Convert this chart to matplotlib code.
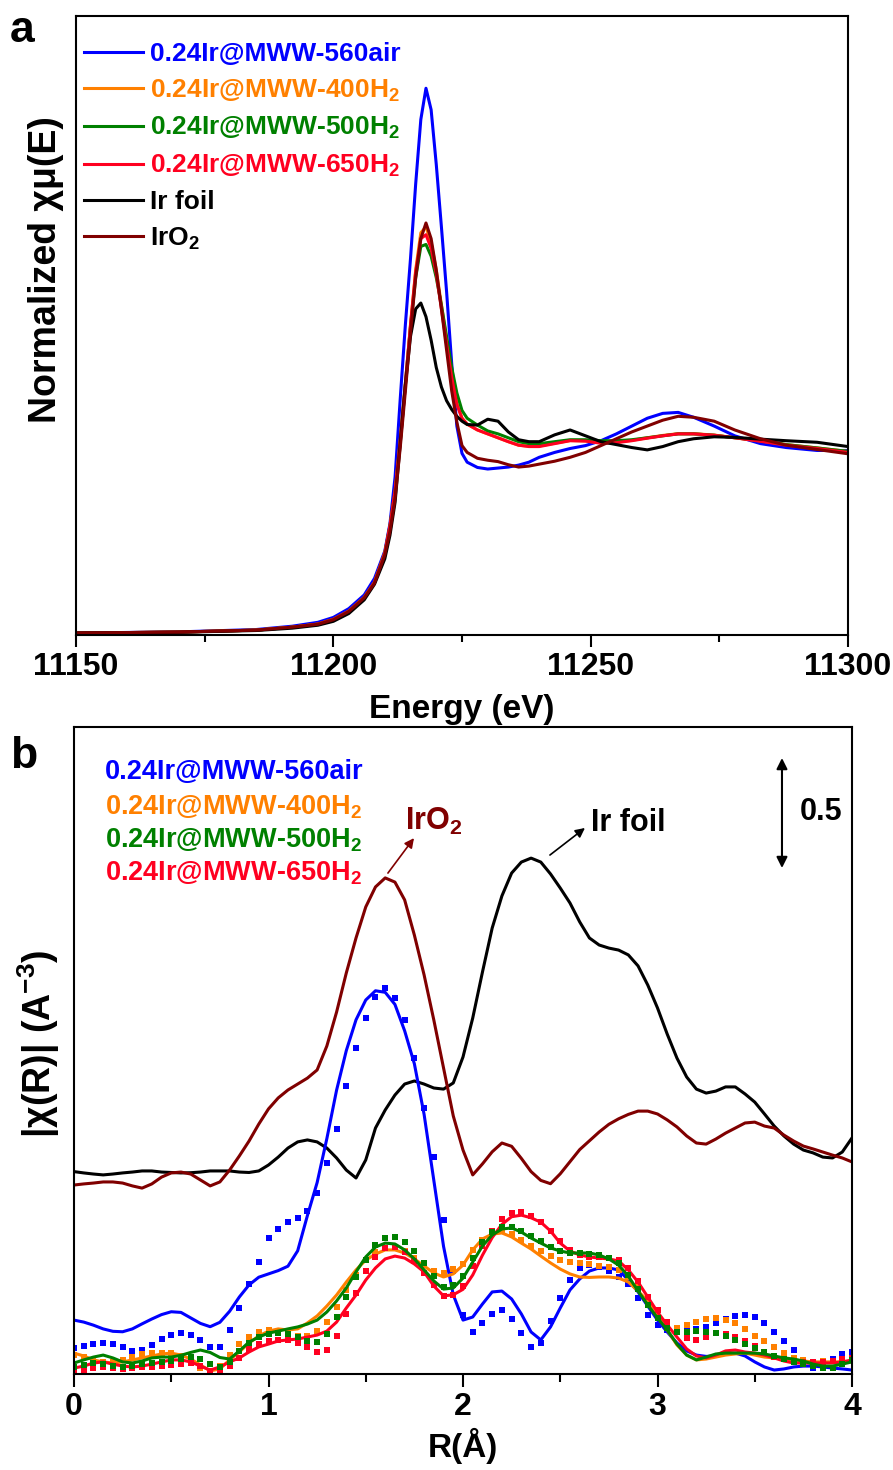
import numpy as np
import matplotlib
matplotlib.use("Agg")
import matplotlib.pyplot as plt
from matplotlib.ticker import MultipleLocator

plt.rcParams['font.family'] = ['Liberation Sans', 'DejaVu Sans']
plt.rcParams['font.weight'] = 'bold'
plt.rcParams['mathtext.fontset'] = 'custom'
plt.rcParams['mathtext.rm'] = 'Liberation Sans:bold'
plt.rcParams['mathtext.bf'] = 'Liberation Sans:bold'
plt.rcParams['mathtext.it'] = 'Liberation Sans:bold'
plt.rcParams['mathtext.default'] = 'rm'

# ---------------- Panel a : XANES ----------------
energy = [11150, 11170, 11185, 11192, 11197, 11200, 11203, 11206, 11208,
          11210, 11211, 11212, 11213, 11214, 11215, 11216, 11217, 11218,
          11219, 11220, 11221, 11222, 11223, 11224, 11225, 11226, 11228,
          11230, 11232, 11234, 11236, 11238, 11240, 11243, 11246, 11249,
          11252, 11255, 11258, 11261, 11264, 11267, 11270, 11274, 11278,
          11283, 11288, 11294, 11300]

xanes_560air = [0.0, 0.006, 0.018, 0.035, 0.055, 0.08, 0.125, 0.195, 0.28,
                0.42, 0.56, 0.80, 1.20, 1.58, 1.92, 2.30, 2.63, 2.79,
                2.68, 2.40, 2.08, 1.75, 1.38, 1.06, 0.92, 0.875, 0.848,
                0.84, 0.845, 0.85, 0.86, 0.875, 0.90, 0.925, 0.945, 0.96,
                0.985, 1.02, 1.06, 1.10, 1.125, 1.13, 1.105, 1.06, 1.01,
                0.97, 0.95, 0.935, 0.935]
xanes_400h2 = [0.0, 0.005, 0.015, 0.03, 0.046, 0.07, 0.112, 0.182, 0.26,
               0.41, 0.54, 0.72, 0.98, 1.27, 1.58, 1.86, 2.05, 2.08,
               2.0, 1.86, 1.68, 1.50, 1.32, 1.18, 1.10, 1.07, 1.04,
               1.02, 1.0, 0.98, 0.962, 0.957, 0.958, 0.972, 0.986, 0.984,
               0.974, 0.977, 0.987, 1.0, 1.012, 1.021, 1.021, 1.014, 1.0,
               0.984, 0.965, 0.948, 0.93]
xanes_500h2 = [0.0, 0.005, 0.015, 0.03, 0.046, 0.07, 0.112, 0.182, 0.26,
               0.41, 0.55, 0.73, 0.99, 1.28, 1.57, 1.82, 1.98, 1.99,
               1.93, 1.82, 1.68, 1.52, 1.36, 1.23, 1.14, 1.10, 1.065,
               1.035, 1.02, 1.0, 0.98, 0.97, 0.97, 0.98, 0.99, 0.99,
               0.985, 0.985, 0.99, 1.0, 1.01, 1.02, 1.02, 1.013, 1.0,
               0.985, 0.965, 0.948, 0.93]
xanes_650h2 = [0.0, 0.005, 0.015, 0.03, 0.046, 0.07, 0.112, 0.182, 0.26,
               0.41, 0.55, 0.73, 0.99, 1.28, 1.58, 1.85, 2.02, 2.04,
               1.97, 1.84, 1.66, 1.48, 1.31, 1.17, 1.10, 1.07, 1.04,
               1.02, 1.0, 0.98, 0.962, 0.955, 0.955, 0.97, 0.985, 0.983,
               0.972, 0.975, 0.985, 0.998, 1.01, 1.02, 1.02, 1.013, 1.0,
               0.982, 0.962, 0.945, 0.925]
xanes_irfoil = [0.0, 0.004, 0.013, 0.025, 0.04, 0.06, 0.1, 0.17, 0.25,
                0.38, 0.50, 0.67, 0.97, 1.27, 1.52, 1.66, 1.69, 1.62,
                1.50, 1.36, 1.26, 1.19, 1.145, 1.11, 1.085, 1.068, 1.065,
                1.095, 1.085, 1.03, 0.99, 0.98, 0.98, 1.015, 1.04, 1.01,
                0.98, 0.965, 0.95, 0.938, 0.955, 0.98, 0.995, 1.005, 1.002,
                0.993, 0.985, 0.977, 0.955]
xanes_iro2 = [0.0, 0.005, 0.015, 0.03, 0.045, 0.068, 0.11, 0.18, 0.255,
              0.40, 0.52, 0.69, 0.95, 1.24, 1.54, 1.82, 2.02, 2.10,
              2.02, 1.86, 1.66, 1.45, 1.24, 1.08, 0.96, 0.925, 0.895,
              0.885, 0.878, 0.862, 0.85, 0.855, 0.865, 0.88, 0.90, 0.925,
              0.96, 0.995, 1.03, 1.06, 1.09, 1.11, 1.105, 1.085, 1.04,
              0.995, 0.962, 0.94, 0.918]

# ---------------- Panel b : FT-EXAFS ----------------
r_grid = np.round(np.arange(0, 4.0001, 0.05), 2)

ft_irfoil = [0.92, 0.914, 0.909, 0.905, 0.909, 0.914, 0.918, 0.923, 0.923, 0.918,
             0.916, 0.914, 0.915, 0.918, 0.923, 0.923, 0.923, 0.918, 0.916, 0.923,
             0.95, 0.986, 1.027, 1.055, 1.064, 1.055, 1.027, 0.982, 0.927, 0.891,
             0.973, 1.118, 1.2, 1.268, 1.318, 1.332, 1.318, 1.3, 1.295, 1.323,
             1.441, 1.618, 1.827, 2.027, 2.173, 2.277, 2.327, 2.345, 2.327, 2.273,
             2.209, 2.141, 2.055, 1.982, 1.95, 1.936, 1.927, 1.905, 1.855, 1.768,
             1.664, 1.545, 1.436, 1.35, 1.295, 1.277, 1.286, 1.305, 1.305, 1.273,
             1.236, 1.182, 1.127, 1.082, 1.045, 1.018, 1.005, 0.986, 0.982, 1.009,
             1.073]
ft_iro2 = [0.859, 0.864, 0.868, 0.873, 0.873, 0.868, 0.855, 0.845, 0.864, 0.895,
           0.914, 0.918, 0.909, 0.882, 0.855, 0.873, 0.927, 0.991, 1.059, 1.136,
           1.205, 1.255, 1.291, 1.318, 1.345, 1.382, 1.491, 1.645, 1.823, 1.982,
           2.123, 2.214, 2.255, 2.236, 2.155, 1.995, 1.814, 1.609, 1.391, 1.173,
           1.018, 0.905, 0.955, 1.01, 1.05, 1.035, 0.98, 0.92, 0.88, 0.865,
           0.91, 0.965, 1.02, 1.06, 1.1, 1.135, 1.16, 1.18, 1.195, 1.195,
           1.182, 1.155, 1.123, 1.082, 1.05, 1.045, 1.068, 1.095, 1.118, 1.141,
           1.145, 1.127, 1.118, 1.086, 1.059, 1.036, 1.023, 1.009, 0.995, 0.982,
           0.964]

fit_560air = [0.245, 0.236, 0.222, 0.205, 0.194, 0.192, 0.205, 0.228, 0.25, 0.27,
              0.283, 0.28, 0.255, 0.23, 0.215, 0.235, 0.285, 0.35, 0.405, 0.44,
              0.455, 0.47, 0.49, 0.56, 0.72, 0.87, 1.07, 1.29, 1.47, 1.61,
              1.70, 1.742, 1.735, 1.68, 1.56, 1.41, 1.18, 0.88, 0.58, 0.36,
              0.245, 0.259, 0.318, 0.373, 0.377, 0.341, 0.273, 0.191, 0.155, 0.214,
              0.3, 0.382, 0.432, 0.468, 0.482, 0.482, 0.473, 0.427, 0.373, 0.309,
              0.245, 0.191, 0.141, 0.105, 0.086, 0.08, 0.082, 0.091, 0.095, 0.082,
              0.055, 0.032, 0.018, 0.023, 0.032, 0.036, 0.036, 0.032, 0.027, 0.023,
              0.018]
exp_560air = [0.118, 0.127, 0.136, 0.141, 0.136, 0.123, 0.105, 0.109, 0.132, 0.159,
              0.177, 0.186, 0.177, 0.155, 0.122, 0.125, 0.2, 0.3, 0.41, 0.51,
              0.62, 0.66, 0.69, 0.71, 0.74, 0.825, 0.96, 1.115, 1.31, 1.48,
              1.62, 1.715, 1.755, 1.71, 1.61, 1.435, 1.21, 0.985, 0.70, 0.47,
              0.27, 0.19, 0.23, 0.275, 0.29, 0.25, 0.187, 0.125, 0.14, 0.24,
              0.345, 0.427, 0.482, 0.495, 0.488, 0.47, 0.44, 0.41, 0.345, 0.27,
              0.225, 0.2, 0.19, 0.195, 0.205, 0.215, 0.23, 0.25, 0.265, 0.268,
              0.258, 0.232, 0.19, 0.15, 0.108, 0.065, 0.027, 0.04, 0.07, 0.09,
              0.1]

fit_400h2 = [0.095, 0.082, 0.064, 0.055, 0.05, 0.055, 0.064, 0.073, 0.082, 0.091,
             0.095, 0.086, 0.068, 0.041, 0.014, 0.023, 0.064, 0.1, 0.141, 0.173,
             0.195, 0.205, 0.2, 0.205, 0.232, 0.264, 0.309, 0.359, 0.418, 0.473,
             0.518, 0.545, 0.564, 0.564, 0.55, 0.523, 0.491, 0.459, 0.441, 0.455,
             0.495, 0.564, 0.614, 0.636, 0.641, 0.623, 0.595, 0.568, 0.536, 0.505,
             0.477, 0.455, 0.441, 0.439, 0.441, 0.441, 0.436, 0.418, 0.377, 0.332,
             0.273, 0.2, 0.132, 0.086, 0.064, 0.068, 0.077, 0.086, 0.091, 0.095,
             0.086, 0.077, 0.073, 0.068, 0.064, 0.059, 0.055, 0.055, 0.055, 0.055,
             0.055]
exp_400h2 = [0.086, 0.077, 0.064, 0.055, 0.055, 0.064, 0.077, 0.091, 0.095, 0.095,
             0.095, 0.082, 0.055, 0.027, 0.009, 0.036, 0.086, 0.136, 0.168, 0.191,
             0.2, 0.195, 0.186, 0.173, 0.173, 0.195, 0.236, 0.305, 0.382, 0.45,
             0.518, 0.555, 0.573, 0.573, 0.559, 0.527, 0.495, 0.468, 0.459, 0.477,
             0.5, 0.564, 0.609, 0.641, 0.65, 0.636, 0.609, 0.582, 0.559, 0.536,
             0.518, 0.509, 0.505, 0.498, 0.491, 0.486, 0.473, 0.441, 0.395, 0.345,
             0.29, 0.235, 0.21, 0.222, 0.238, 0.25, 0.255, 0.247, 0.232, 0.205,
             0.175, 0.148, 0.122, 0.097, 0.073, 0.063, 0.056, 0.057, 0.058, 0.06,
             0.064]

fit_500h2 = [0.05, 0.064, 0.077, 0.086, 0.073, 0.055, 0.05, 0.059, 0.073, 0.077,
             0.077, 0.085, 0.098, 0.109, 0.098, 0.075, 0.068, 0.105, 0.145, 0.168,
             0.186, 0.195, 0.205, 0.214, 0.227, 0.245, 0.282, 0.332, 0.391, 0.464,
             0.532, 0.577, 0.595, 0.591, 0.564, 0.523, 0.473, 0.423, 0.386, 0.391,
             0.436, 0.509, 0.582, 0.632, 0.659, 0.664, 0.645, 0.618, 0.595, 0.573,
             0.559, 0.55, 0.55, 0.55, 0.541, 0.523, 0.495, 0.445, 0.377, 0.314,
             0.255, 0.2, 0.136, 0.086, 0.064, 0.077, 0.091, 0.095, 0.095, 0.095,
             0.095, 0.091, 0.082, 0.073, 0.068, 0.059, 0.045, 0.036, 0.036, 0.045,
             0.055]
exp_500h2 = [0.032, 0.041, 0.05, 0.045, 0.036, 0.032, 0.036, 0.045, 0.05, 0.055,
             0.059, 0.068, 0.077, 0.068, 0.045, 0.032, 0.055, 0.105, 0.141, 0.168,
             0.182, 0.186, 0.182, 0.168, 0.15, 0.145, 0.182, 0.259, 0.35, 0.441,
             0.518, 0.586, 0.618, 0.623, 0.6, 0.559, 0.505, 0.445, 0.395, 0.405,
             0.445, 0.527, 0.6, 0.645, 0.668, 0.668, 0.65, 0.627, 0.605, 0.577,
             0.559, 0.55, 0.55, 0.545, 0.541, 0.527, 0.505, 0.45, 0.386, 0.314,
             0.255, 0.209, 0.191, 0.191, 0.195, 0.191, 0.186, 0.173, 0.155, 0.136,
             0.118, 0.1, 0.082, 0.068, 0.055, 0.045, 0.036, 0.027, 0.027, 0.045,
             0.064]

fit_650h2 = [0.027, 0.036, 0.05, 0.055, 0.045, 0.036, 0.032, 0.036, 0.045, 0.055,
             0.064, 0.064, 0.055, 0.036, 0.018, 0.032, 0.055, 0.073, 0.1, 0.123,
             0.136, 0.15, 0.155, 0.159, 0.168, 0.177, 0.195, 0.236, 0.3, 0.359,
             0.427, 0.482, 0.523, 0.536, 0.527, 0.5, 0.464, 0.40, 0.355, 0.36,
             0.385, 0.45, 0.54, 0.62, 0.68, 0.715, 0.722, 0.71, 0.69, 0.65,
             0.595, 0.559, 0.541, 0.532, 0.527, 0.523, 0.514, 0.473, 0.418, 0.35,
             0.282, 0.223, 0.168, 0.114, 0.082, 0.073, 0.086, 0.105, 0.109, 0.1,
             0.095, 0.086, 0.073, 0.059, 0.05, 0.05, 0.05, 0.05, 0.05, 0.055,
             0.064]
exp_650h2 = [0.005, 0.014, 0.027, 0.032, 0.027, 0.023, 0.027, 0.032, 0.032, 0.036,
             0.041, 0.045, 0.05, 0.036, 0.014, 0.014, 0.036, 0.073, 0.114, 0.136,
             0.15, 0.155, 0.155, 0.141, 0.123, 0.1, 0.109, 0.173, 0.273, 0.368,
             0.468, 0.532, 0.573, 0.577, 0.555, 0.514, 0.459, 0.405, 0.355, 0.359,
             0.4, 0.491, 0.582, 0.65, 0.705, 0.732, 0.736, 0.718, 0.691, 0.65,
             0.605, 0.564, 0.541, 0.532, 0.53, 0.527, 0.518, 0.482, 0.423, 0.35,
             0.291, 0.236, 0.19, 0.165, 0.155, 0.17, 0.185, 0.18, 0.168, 0.15,
             0.128, 0.1, 0.079, 0.068, 0.059, 0.055, 0.055, 0.055, 0.059, 0.068,
             0.073]

sample_labels = ['0.24Ir@MWW-560air', '0.24Ir@MWW-400H$_2$',
                 '0.24Ir@MWW-500H$_2$', '0.24Ir@MWW-650H$_2$']
ref_labels = ['Ir foil', 'IrO$_2$']

C_BLUE = '#0000ff'
C_ORANGE = '#ff8000'
C_GREEN = '#008000'
C_RED = '#ff0020'
C_BLACK = '#000000'
C_BROWN = '#800000'

W, H = 893, 1470
fig = plt.figure(figsize=(W / 100, H / 100), dpi=100)

def frac_box(x0, y0, x1, y1):
    return [x0 / W, 1 - y1 / H, (x1 - x0) / W, (y1 - y0) / H]

LW = 2.2
TICKFS = 23
LABELFS = 24
LEGFS = 19
TXTFS = 19.5
ANNFS = 22

# ---------- panel a ----------
axa = fig.add_axes(frac_box(76, 16, 848, 635))
series_a = [(xanes_560air, C_BLUE, sample_labels[0]),
            (xanes_400h2, C_ORANGE, sample_labels[1]),
            (xanes_500h2, C_GREEN, sample_labels[2]),
            (xanes_650h2, C_RED, sample_labels[3]),
            (xanes_irfoil, C_BLACK, ref_labels[0]),
            (xanes_iro2, C_BROWN, ref_labels[1])]
for vals, col, lab in series_a:
    axa.plot(energy, vals, color=col, lw=LW, label=lab)
axa.set_xlim(11150, 11300)
axa.set_ylim(-0.01, 3.16)
axa.xaxis.set_major_locator(MultipleLocator(50))
axa.xaxis.set_minor_locator(MultipleLocator(25))
axa.set_yticks([])
axa.tick_params(axis='x', which='major', direction='out', length=8.6, width=1.5,
                labelsize=TICKFS, pad=4)
axa.tick_params(axis='x', which='minor', direction='out', length=5, width=1.5)
for lab in axa.get_xticklabels():
    lab.set_fontweight('bold')
axa.set_xlabel('Energy (eV)', fontsize=LABELFS, fontweight='bold', labelpad=8)
axa.set_ylabel('Normalized χμ(E)', fontsize=27, fontweight='bold')
axa.yaxis.set_label_coords(-0.016, 0.59)
for sp in axa.spines.values():
    sp.set_linewidth(1.5)
leg = axa.legend(loc='upper left', bbox_to_anchor=(0.0035, 0.966), frameon=False,
                 fontsize=LEGFS, handlelength=2.25, handletextpad=0.27,
                 labelspacing=0.43, borderaxespad=0.0, borderpad=0.2)
text_cols = [C_BLUE, C_ORANGE, C_GREEN, C_RED, C_BLACK, C_BLACK]
for t, c in zip(leg.get_texts(), text_cols):
    t.set_color(c)
    t.set_fontweight('bold')

# ---------- panel b ----------
axb = fig.add_axes(frac_box(74, 727, 852, 1374))
axb.plot(r_grid, ft_irfoil, color=C_BLACK, lw=LW)
axb.plot(r_grid, ft_iro2, color=C_BROWN, lw=LW)
samples_b = [(fit_560air, exp_560air, C_BLUE),
             (fit_400h2, exp_400h2, C_ORANGE),
             (fit_650h2, exp_650h2, C_RED),
             (fit_500h2, exp_500h2, C_GREEN)]
for fit, exp, col in samples_b:
    axb.plot(r_grid, fit, color=col, lw=LW)
    axb.plot(r_grid, exp, linestyle='none', marker='s', ms=4.5, mew=0, color=col)
axb.set_xlim(0, 4)
axb.set_ylim(0, 2.941)
axb.xaxis.set_major_locator(MultipleLocator(1))
axb.xaxis.set_minor_locator(MultipleLocator(0.5))
axb.set_yticks([])
axb.tick_params(axis='x', which='major', direction='out', length=9, width=1.5,
                labelsize=TICKFS, pad=4)
axb.tick_params(axis='x', which='minor', direction='out', length=5.5, width=1.5)
for lab in axb.get_xticklabels():
    lab.set_fontweight('bold')
axb.set_xlabel('R(Å)', fontsize=LABELFS, fontweight='bold', labelpad=4)
axb.set_ylabel('|χ(R)| (A$^{-3}$)', fontsize=27, fontweight='bold')
axb.yaxis.set_label_coords(-0.016, 0.51)
for sp in axb.spines.values():
    sp.set_linewidth(1.5)

label_y = [2.736, 2.577, 2.427, 2.277]
for lab, col, yy in zip(sample_labels, [C_BLUE, C_ORANGE, C_GREEN, C_RED], label_y):
    axb.text(0.16, yy, lab, color=col, fontsize=TXTFS, fontweight='bold',
             va='center', ha='left')

axb.annotate('', xy=(1.748, 2.436), xytext=(1.614, 2.277),
             arrowprops=dict(arrowstyle='-|>', color=C_BROWN, lw=1.2,
                             mutation_scale=14, shrinkA=0, shrinkB=0))
axb.text(1.70, 2.51, ref_labels[1], color=C_BROWN, fontsize=ANNFS,
         fontweight='bold', va='center', ha='left')
axb.annotate('', xy=(2.627, 2.482), xytext=(2.447, 2.359),
             arrowprops=dict(arrowstyle='-|>', color=C_BLACK, lw=1.2,
                             mutation_scale=14, shrinkA=0, shrinkB=0))
axb.text(2.66, 2.505, ref_labels[0], color=C_BLACK, fontsize=ANNFS,
         fontweight='bold', va='center', ha='left')

# scale bar (0.5 units)
axb.annotate('', xy=(3.64, 2.80), xytext=(3.64, 2.30),
             arrowprops=dict(arrowstyle='<|-|>', color=C_BLACK, lw=1.5,
                             mutation_scale=16, shrinkA=0, shrinkB=0))
axb.text(3.73, 2.555, '0.5', color=C_BLACK, fontsize=ANNFS,
         fontweight='bold', va='center', ha='left')

fig.text(10 / W, 1 - 42 / H, 'a', fontsize=32, fontweight='bold', va='baseline')
fig.text(10 / W, 1 - 768 / H, 'b', fontsize=32, fontweight='bold', va='baseline')

fig.savefig('out.png', dpi=100)
